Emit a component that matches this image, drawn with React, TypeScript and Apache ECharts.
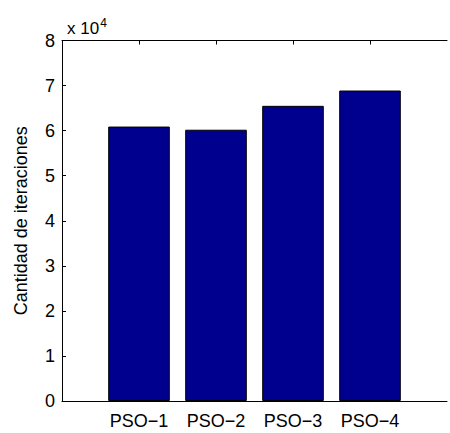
import { useEffect, useRef } from 'react';
import * as echarts from 'echarts';

const categories = ['PSO−1', 'PSO−2', 'PSO−3', 'PSO−4'];
const iterations = [60900, 60200, 65500, 68900];
const yAxisName = 'Cantidad de iteraciones';
const exponentBase = 'x 10';
const exponentPower = '4';
const yMax = 80000;
const yStep = 10000;

const FONT = '"Liberation Sans", Arial, Helvetica, sans-serif';

export default function App() {
  const ref = useRef<HTMLDivElement>(null);
  useEffect(() => {
    if (!ref.current) return;
    const chart = echarts.init(ref.current, null, { renderer: 'svg' });
    const slots = ['', ...categories, ''];
    const values = ['-', ...iterations, '-'];
    chart.setOption({
      animation: false,
      backgroundColor: '#fff',
      title: {
        left: 62,
        top: 12,
        text: `{a|${exponentBase}}{b|${exponentPower}}`,
        textStyle: {
          fontWeight: 'normal',
          rich: {
            a: { fontSize: 17, fontWeight: 'normal', fontFamily: FONT, color: '#000' },
            b: { fontSize: 12, fontWeight: 'normal', fontFamily: FONT, color: '#000', padding: [0, 0, 11, 1] },
          },
        },
      },
      grid: { left: 62, top: 40.5, bottom: 32, right: -6.5, containLabel: false },
      xAxis: [
        {
          type: 'category',
          data: slots,
          boundaryGap: false,
          position: 'bottom',
          axisLine: { show: true, lineStyle: { color: '#000', width: 1 } },
          axisTick: {
            show: true,
            inside: true,
            length: 4,
            interval: (i: number) => i > 0 && i <= categories.length,
            lineStyle: { color: '#000' },
          },
          axisLabel: { interval: 0, margin: 11, fontSize: 18, fontFamily: FONT, color: '#000' },
          splitLine: { show: false },
        },
        {
          type: 'category',
          data: slots,
          boundaryGap: false,
          position: 'top',
          axisLine: { show: true, lineStyle: { color: '#000', width: 1 } },
          axisTick: {
            show: true,
            inside: true,
            length: 4,
            interval: (i: number) => i > 0 && i <= categories.length,
            lineStyle: { color: '#000' },
          },
          axisLabel: { show: false },
          splitLine: { show: false },
        },
      ],
      yAxis: {
        type: 'value',
        min: 0,
        max: yMax,
        interval: yStep,
        name: yAxisName,
        nameLocation: 'middle',
        nameGap: 32,
        nameTextStyle: { fontSize: 18, fontFamily: FONT, color: '#000' },
        axisLine: { show: true, lineStyle: { color: '#000', width: 1 } },
        axisTick: { show: true, inside: true, length: 4, lineStyle: { color: '#000' } },
        axisLabel: {
          margin: 7,
          fontSize: 18,
          fontFamily: FONT,
          color: '#000',
          formatter: (v: number) => String(v / yStep),
        },
        splitLine: { show: false },
      },
      series: [
        {
          type: 'bar',
          data: values,
          barWidth: '80%',
          itemStyle: { color: '#00008F', borderColor: '#000', borderWidth: 1 },
        },
      ],
    });
    return () => chart.dispose();
  }, []);
  return (
    <div
      ref={ref}
      style={{ position: 'absolute', left: 0, top: 0, width: 450, height: 433, background: '#fff' }}
    />
  );
}
